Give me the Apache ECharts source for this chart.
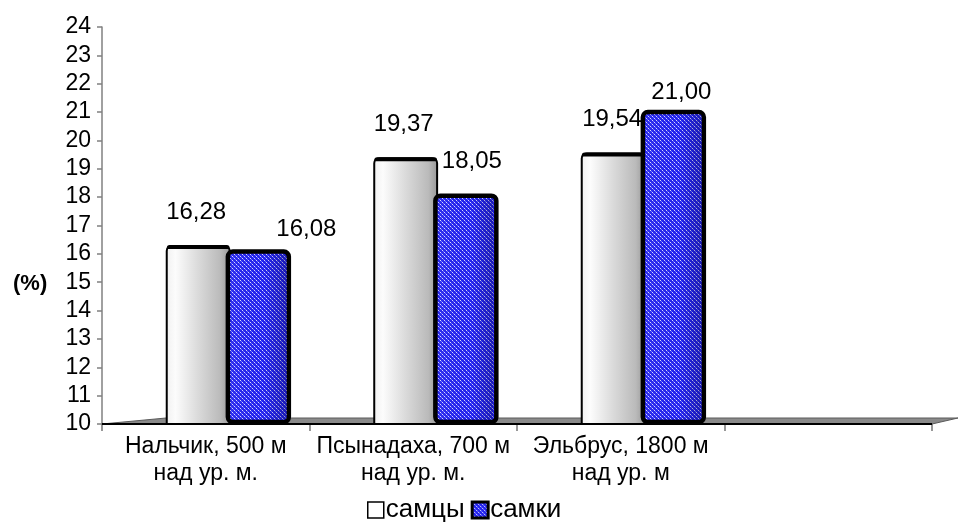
<!DOCTYPE html>
<html>
<head>
<meta charset="utf-8">
<script src="https://cdn.jsdelivr.net/npm/echarts@6/dist/echarts.min.js"></script>
<style>
  html, body { margin: 0; padding: 0; background: #fff; }
  #chart { width: 964px; height: 526px; }
</style>
</head>
<body>
<div id="chart"></div>
<script>
// Доля (%) по высотным популяциям, самцы и самки
const categories = [
  'Нальчик, 500 м\nнад ур. м.',
  'Псынадаха, 700 м\nнад ур. м.',
  'Эльбрус, 1800 м\nнад ур. м',
  ''
];
const males = [16.28, 19.37, 19.54, null];
const females = [16.08, 18.05, 21.00, null];
const seriesNames = ['самцы', 'самки'];
const yMin = 10, yMax = 24, yStep = 1;

// Layout of the pseudo-3D bars inside a category band (fractions of band width)
const BAR_SPAN = {
  male: [-0.188, 0.115],
  female: [0.097, 0.410]
};
// Label nudges [dx, gap above top] for labels pushed aside to avoid overlap
const LABEL_NUDGE = {
  male: [[-2, 34], [-2, 34], [-1, 34]],
  female: [[48, 22], [6, 34], [8, 20]]
};

const FONT = '"Liberation Sans", Arial, sans-serif';

// Blue dotted fill tile
function makeTile() {
  const c = document.createElement('canvas');
  c.width = 4; c.height = 4;
  const g = c.getContext('2d');
  g.fillStyle = '#2323ee';
  g.fillRect(0, 0, 4, 4);
  g.fillStyle = '#d6d6ff';
  g.fillRect(0, 0, 1, 1);
  g.fillRect(2, 2, 1, 1);
  g.fillStyle = '#7070ff';
  g.fillRect(1, 1, 1, 1);
  g.fillRect(3, 3, 1, 1);
  return c;
}
const tile = makeTile();
const blueFill = { image: tile, repeat: 'repeat' };

function fmt(v) { return v.toFixed(2).replace('.', ','); }

function barRenderer(kind) {
  return function (params, api) {
    const idx = api.value(0);
    const val = api.value(1);
    if (val == null || isNaN(val)) return;
    const top = api.coord([idx, val]);
    const base = api.coord([idx, yMin]);
    const band = api.size([1, 0])[0];
    const span = BAR_SPAN[kind];
    const x0 = top[0] + span[0] * band;
    const x1 = top[0] + span[1] * band;
    const w = x1 - x0;
    const yTop = top[1];
    const yBase = base[1];
    const cx = (x0 + x1) / 2;
    const nudge = LABEL_NUDGE[kind][params.dataIndex] || [0, 34];
    const children = [];
    if (kind === 'male') {
      children.push({
        type: 'rect',
        shape: { x: x0, y: yTop, width: w, height: yBase - yTop, r: [5, 5, 0, 0] },
        style: {
          fill: new echarts.graphic.LinearGradient(0, 0, 1, 0, [
            { offset: 0, color: '#f0f0f0' },
            { offset: 0.15, color: '#fcfcfc' },
            { offset: 0.5, color: '#dadada' },
            { offset: 0.85, color: '#bababa' },
            { offset: 1, color: '#969696' }
          ]),
          stroke: '#000', lineWidth: 2
        }
      });
      children.push({
        type: 'rect',
        shape: { x: x0, y: yTop - 1, width: w, height: 4, r: [3, 3, 0, 0] },
        style: { fill: '#000' }
      });
    } else {
      children.push({
        type: 'rect',
        shape: { x: x0 + 2, y: yTop, width: w - 4, height: yBase - yTop - 2, r: 5 },
        style: { fill: blueFill, stroke: '#000', lineWidth: 4.5 }
      });
      children.push({
        type: 'rect',
        shape: { x: x0 + 5, y: yTop + 3, width: w - 10, height: yBase - yTop - 8 },
        style: {
          fill: new echarts.graphic.LinearGradient(0, 0, 1, 0, [
            { offset: 0, color: 'rgba(255,255,255,0.05)' },
            { offset: 0.6, color: 'rgba(0,0,40,0.0)' },
            { offset: 1, color: 'rgba(0,0,40,0.28)' }
          ])
        }
      });
    }
    children.push({
      type: 'text',
      style: {
        text: fmt(val),
        x: cx + nudge[0],
        y: yTop - nudge[1],
        align: 'center',
        verticalAlign: 'middle',
        fill: '#000',
        font: '24px ' + FONT
      }
    });
    return { type: 'group', children: children };
  };
}

// Floor of the 3D plot area
function floorRenderer(params, api) {
  const band = api.size([1, 0])[0];
  const first = api.coord([0, yMin]);
  const last = api.coord([categories.length - 1, yMin]);
  const left = first[0] - band / 2;
  const right = last[0] + band / 2;
  const y = first[1];
  return {
    type: 'group',
    children: [
      {
        type: 'polygon',
        shape: { points: [[left, y], [right, y], [right + 26, y - 6], [left + 64, y - 6]] },
        style: { fill: '#8a8a8a', stroke: '#5a5a5a', lineWidth: 1 }
      },
      {
        type: 'line',
        shape: { x1: left, y1: y, x2: right, y2: y },
        style: { stroke: '#000', lineWidth: 2 }
      }
    ]
  };
}

const chart = echarts.init(document.getElementById('chart'), null, { renderer: 'canvas' });

chart.setOption({
  animation: false,
  backgroundColor: '#fff',
  title: {
    text: '(%)',
    left: 8,
    top: 268,
    textStyle: { fontFamily: FONT, fontSize: 22, fontWeight: 'bold', color: '#000' }
  },
  grid: { left: 102, right: 32, top: 27, bottom: 102, containLabel: false },
  legend: {
    top: 497,
    left: 367,
    icon: 'rect',
    itemWidth: 16,
    itemHeight: 16,
    itemGap: 6,
    padding: 0,
    textStyle: { fontFamily: FONT, fontSize: 26, color: '#000', padding: [0, 0, 0, -3] },
    data: [
      { name: seriesNames[0], itemStyle: { color: '#fff', borderColor: '#000', borderWidth: 1.5 } },
      { name: seriesNames[1], itemStyle: { color: blueFill, borderColor: '#000', borderWidth: 3 } }
    ]
  },
  xAxis: {
    type: 'category',
    data: categories,
    boundaryGap: true,
    axisLine: { show: false },
    axisTick: { show: true, interval: 0, length: 7, lineStyle: { color: '#777', width: 1.5 } },
    axisLabel: {
      interval: 0,
      margin: 9,
      fontFamily: FONT,
      fontSize: 23,
      lineHeight: 27,
      color: '#000'
    },
    splitLine: { show: false }
  },
  yAxis: {
    type: 'value',
    min: yMin,
    max: yMax,
    interval: yStep,
    axisLine: { show: true, lineStyle: { color: '#808080', width: 1.5 } },
    axisTick: { show: true, length: 5, lineStyle: { color: '#808080', width: 1.5 } },
    axisLabel: { margin: 11, fontFamily: FONT, fontSize: 23, color: '#000' },
    splitLine: { show: false }
  },
  series: [
    {
      type: 'custom',
      name: 'floor',
      silent: true,
      z: 1,
      renderItem: floorRenderer,
      data: [[0, yMin]]
    },
    {
      type: 'custom',
      name: seriesNames[0],
      z: 2,
      itemStyle: { color: '#fff' },
      renderItem: barRenderer('male'),
      data: males.map((v, i) => [i, v])
    },
    {
      type: 'custom',
      name: seriesNames[1],
      z: 3,
      itemStyle: { color: '#2323ee' },
      renderItem: barRenderer('female'),
      data: females.map((v, i) => [i, v])
    }
  ]
});
</script>
</body>
</html>
